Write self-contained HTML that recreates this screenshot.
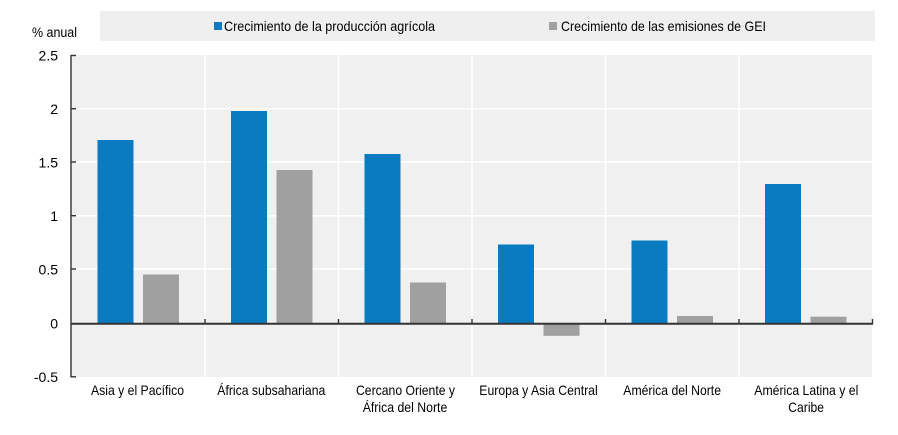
<!DOCTYPE html>
<html><head><meta charset="utf-8"><style>
html,body{margin:0;padding:0;background:#fff;}
svg{display:block;}
text{font-family:"Liberation Sans",Arial,sans-serif;font-size:14px;fill:#000;}
</style></head><body>
<svg width="898" height="435" viewBox="0 0 898 435" xmlns="http://www.w3.org/2000/svg">
<!-- legend box -->
<rect x="100" y="11" width="775" height="30" fill="#efefef"/>
<rect x="214" y="22" width="8" height="8" fill="#0a7bc1"/>
<text x="224" y="31" textLength="211" lengthAdjust="spacingAndGlyphs">Crecimiento de la producción agrícola</text>
<rect x="549" y="22" width="8" height="8" fill="#a0a0a0"/>
<text x="561" y="31" textLength="205" lengthAdjust="spacingAndGlyphs">Crecimiento de las emisiones de GEI</text>
<text x="32" y="37" textLength="45" lengthAdjust="spacingAndGlyphs">% anual</text>

<!-- plot background -->
<rect x="71" y="55" width="801" height="322" fill="#f0f0f0"/>
<!-- horizontal grid -->
<g stroke="#ffffff" stroke-width="1.5">
<line x1="71" x2="872" y1="108.7" y2="108.7"/>
<line x1="71" x2="872" y1="162" y2="162"/>
<line x1="71" x2="872" y1="215.7" y2="215.7"/>
<line x1="71" x2="872" y1="269" y2="269"/>
<!-- vertical grid -->
<line x1="205" x2="205" y1="55" y2="377"/>
<line x1="338.5" x2="338.5" y1="55" y2="377"/>
<line x1="472" x2="472" y1="55" y2="377"/>
<line x1="605.5" x2="605.5" y1="55" y2="377"/>
<line x1="739" x2="739" y1="55" y2="377"/>
</g>

<!-- bars: zero at 323.5, 107.3 px/unit -->
<g fill="#0a7bc1">
<rect x="97.5" y="140" width="36" height="183.5"/>
<rect x="231" y="111" width="36" height="212.5"/>
<rect x="364.5" y="154" width="36" height="169.5"/>
<rect x="498" y="244.5" width="36" height="79"/>
<rect x="631.5" y="240.5" width="36" height="83"/>
<rect x="765" y="184" width="36" height="139.5"/>
</g>
<g fill="#a0a0a0">
<rect x="143" y="274.5" width="36" height="49"/>
<rect x="276.5" y="170" width="36" height="153.5"/>
<rect x="410" y="282.5" width="36" height="41"/>
<rect x="543.5" y="323.5" width="36" height="12.3"/>
<rect x="677" y="316" width="36" height="7.5"/>
<rect x="810.5" y="316.7" width="36" height="6.8"/>
</g>

<!-- axes -->
<g stroke="#333" stroke-width="1.4">
<line x1="71" x2="71" y1="55" y2="377.5"/>
<line x1="71" x2="76" y1="55.5" y2="55.5"/>
<line x1="71" x2="76" y1="108.7" y2="108.7"/>
<line x1="71" x2="76" y1="162" y2="162"/>
<line x1="71" x2="76" y1="215.7" y2="215.7"/>
<line x1="71" x2="76" y1="269" y2="269"/>
<line x1="71" x2="76" y1="376.8" y2="376.8"/>
<line x1="205" x2="205" y1="319" y2="324"/>
<line x1="338.5" x2="338.5" y1="319" y2="324"/>
<line x1="472" x2="472" y1="319" y2="324"/>
<line x1="605.5" x2="605.5" y1="319" y2="324"/>
<line x1="739" x2="739" y1="319" y2="324"/>
<line x1="872.5" x2="872.5" y1="319" y2="324"/>
</g>
<line x1="71" x2="873" y1="323.8" y2="323.8" stroke="#333" stroke-width="2"/>

<!-- y tick labels -->
<g text-anchor="end">
<text x="58" y="60.5">2.5</text>
<text x="58" y="114">2</text>
<text x="58" y="167.3">1.5</text>
<text x="58" y="221">1</text>
<text x="58" y="274.3">0.5</text>
<text x="58" y="328.7">0</text>
<text x="58" y="382">-0.5</text>
</g>

<!-- category labels -->
<text x="91" y="395" textLength="93" lengthAdjust="spacingAndGlyphs">Asia y el Pacífico</text>
<text x="217.3" y="395" textLength="108" lengthAdjust="spacingAndGlyphs">África subsahariana</text>
<text x="356" y="395" textLength="99" lengthAdjust="spacingAndGlyphs">Cercano Oriente y</text>
<text x="362.7" y="412" textLength="84.6" lengthAdjust="spacingAndGlyphs">África del Norte</text>
<text x="479.3" y="395" textLength="118.4" lengthAdjust="spacingAndGlyphs">Europa y Asia Central</text>
<text x="623.3" y="395" textLength="97.7" lengthAdjust="spacingAndGlyphs">América del Norte</text>
<text x="754.3" y="395" textLength="104" lengthAdjust="spacingAndGlyphs">América Latina y el</text>
<text x="788.3" y="412" textLength="35.7" lengthAdjust="spacingAndGlyphs">Caribe</text>
</svg>
</body></html>
